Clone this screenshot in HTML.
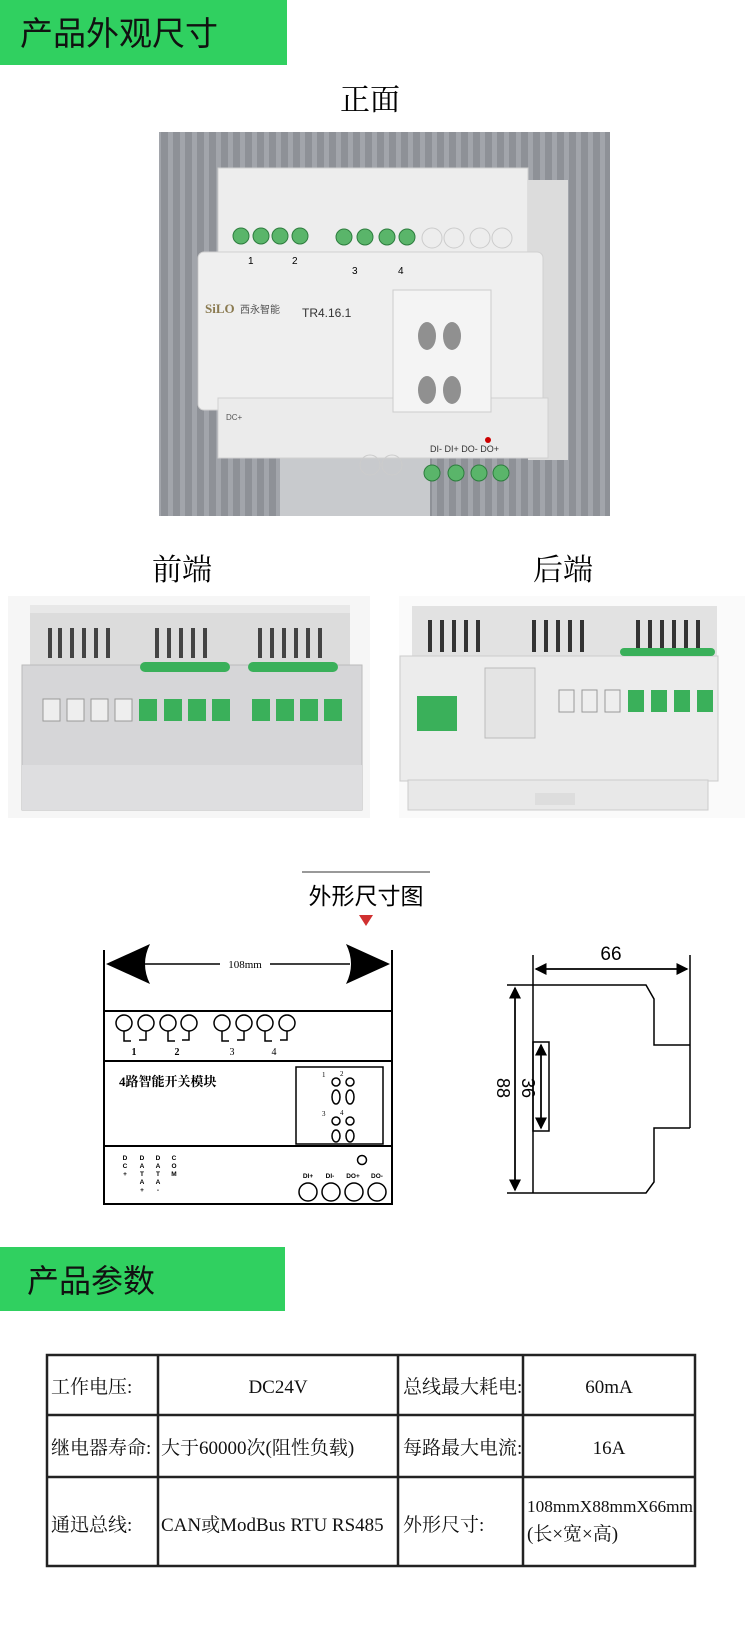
<!DOCTYPE html>
<html><head><meta charset="utf-8"><style>
html,body{margin:0;padding:0;background:#fff}
svg{display:block}
text{font-family:"Liberation Sans","Noto Sans CJK SC",sans-serif}
.s, .s text, text.s{font-family:"Liberation Serif","Noto Serif CJK SC",serif}
</style></head><body>
<svg width="750" height="1644" viewBox="0 0 750 1644" xmlns="http://www.w3.org/2000/svg">
<defs>
<pattern id="st" width="12" height="10" patternUnits="userSpaceOnUse"><rect width="12" height="10" fill="#8e9197"/><rect width="5" height="10" fill="#a2a5ab"/></pattern>
<marker id="ah" markerWidth="8" markerHeight="8" refX="7" refY="4" orient="auto"><path d="M0,0 L8,4 L0,8 z" fill="#000"/></marker>
</defs>
<!-- Header 1 -->
<rect x="0" y="0" width="287" height="65" fill="#30d060"/>
<text x="20" y="45" font-size="33" fill="#111">产品外观尺寸</text>
<text x="370" y="110" font-size="30" text-anchor="middle" class="s">正面</text>

<!-- Front photo -->
<rect x="159" y="132" width="451" height="384" fill="url(#st)"/>
<rect x="280" y="455" width="150" height="61" fill="#c8cacd"/>
<rect x="218" y="168" width="310" height="84" fill="#ededed" stroke="#cfcfcf"/>
<rect x="528" y="180" width="40" height="280" fill="#dcdcdc"/>
<rect x="198" y="252" width="345" height="158" rx="6" fill="#efefef" stroke="#d0d0d0"/>
<rect x="218" y="398" width="330" height="60" fill="#ebebeb" stroke="#d0d0d0"/>
<g fill="#5ab56a" stroke="#2d7d3e">
<circle cx="241" cy="236" r="8"/><circle cx="261" cy="236" r="8"/><circle cx="280" cy="236" r="8"/><circle cx="300" cy="236" r="8"/>
<circle cx="344" cy="237" r="8"/><circle cx="365" cy="237" r="8"/><circle cx="387" cy="237" r="8"/><circle cx="407" cy="237" r="8"/>
<circle cx="432" cy="473" r="8"/><circle cx="456" cy="473" r="8"/><circle cx="479" cy="473" r="8"/><circle cx="501" cy="473" r="8"/>
</g>
<g fill="none" stroke="#ccc"><circle cx="432" cy="238" r="10"/><circle cx="454" cy="238" r="10"/><circle cx="480" cy="238" r="10"/><circle cx="502" cy="238" r="10"/>
<circle cx="370" cy="465" r="10"/><circle cx="392" cy="465" r="10"/></g>
<text x="248" y="264" font-size="10">1</text><text x="292" y="264" font-size="10">2</text><text x="352" y="274" font-size="10">3</text><text x="398" y="274" font-size="10">4</text>
<text x="205" y="313" font-size="13" fill="#8a7a50" font-weight="bold" class="s">SiLO</text><text x="240" y="313" font-size="10" fill="#555">西永智能</text>
<text x="302" y="317" font-size="12" fill="#333">TR4.16.1</text>
<rect x="393" y="290" width="98" height="122" fill="#f4f4f4" stroke="#ccc"/>
<g fill="#909090"><ellipse cx="427" cy="336" rx="9" ry="14"/><ellipse cx="452" cy="336" rx="9" ry="14"/><ellipse cx="427" cy="390" rx="9" ry="14"/><ellipse cx="452" cy="390" rx="9" ry="14"/></g>
<text x="226" y="420" font-size="8" fill="#555">DC+</text>
<text x="430" y="452" font-size="9" fill="#333">DI-  DI+ DO- DO+</text>
<circle cx="488" cy="440" r="3" fill="#c00"/>

<text x="182" y="580" font-size="30" text-anchor="middle" class="s">前端</text>
<text x="563" y="580" font-size="30" text-anchor="middle" class="s">后端</text>
<!-- front-end photo -->
<rect x="8" y="596" width="362" height="222" fill="#f6f6f6"/>
<rect x="30" y="605" width="320" height="60" fill="#dcdcdc"/>
<rect x="30" y="605" width="320" height="8" fill="#e8e8e8"/>
<g fill="#444"><rect x="48" y="628" width="4" height="30"/><rect x="58" y="628" width="4" height="30"/><rect x="70" y="628" width="4" height="30"/><rect x="82" y="628" width="4" height="30"/><rect x="94" y="628" width="4" height="30"/><rect x="106" y="628" width="4" height="30"/>
<rect x="155" y="628" width="4" height="30"/><rect x="167" y="628" width="4" height="30"/><rect x="179" y="628" width="4" height="30"/><rect x="191" y="628" width="4" height="30"/><rect x="203" y="628" width="4" height="30"/>
<rect x="258" y="628" width="4" height="30"/><rect x="270" y="628" width="4" height="30"/><rect x="282" y="628" width="4" height="30"/><rect x="294" y="628" width="4" height="30"/><rect x="306" y="628" width="4" height="30"/><rect x="318" y="628" width="4" height="30"/></g>
<rect x="22" y="665" width="340" height="145" fill="#d6d6d8" stroke="#bbb"/>
<rect x="22" y="765" width="340" height="45" fill="#dedee0"/>
<g fill="#eee" stroke="#999"><rect x="43" y="699" width="17" height="22"/><rect x="67" y="699" width="17" height="22"/><rect x="91" y="699" width="17" height="22"/><rect x="115" y="699" width="17" height="22"/></g>
<g fill="#3ab05a"><rect x="139" y="699" width="18" height="22"/><rect x="164" y="699" width="18" height="22"/><rect x="188" y="699" width="18" height="22"/><rect x="212" y="699" width="18" height="22"/>
<rect x="252" y="699" width="18" height="22"/><rect x="276" y="699" width="18" height="22"/><rect x="300" y="699" width="18" height="22"/><rect x="324" y="699" width="18" height="22"/>
<rect x="140" y="662" width="90" height="10" rx="5"/><rect x="248" y="662" width="90" height="10" rx="5"/></g>
<!-- back-end photo -->
<rect x="399" y="596" width="346" height="222" fill="#fafafa"/>
<rect x="412" y="606" width="305" height="50" fill="#e2e2e2"/>
<g fill="#333"><rect x="428" y="620" width="4" height="32"/><rect x="440" y="620" width="4" height="32"/><rect x="452" y="620" width="4" height="32"/><rect x="464" y="620" width="4" height="32"/><rect x="476" y="620" width="4" height="32"/>
<rect x="532" y="620" width="4" height="32"/><rect x="544" y="620" width="4" height="32"/><rect x="556" y="620" width="4" height="32"/><rect x="568" y="620" width="4" height="32"/><rect x="580" y="620" width="4" height="32"/>
<rect x="636" y="620" width="4" height="32"/><rect x="648" y="620" width="4" height="32"/><rect x="660" y="620" width="4" height="32"/><rect x="672" y="620" width="4" height="32"/><rect x="684" y="620" width="4" height="32"/><rect x="696" y="620" width="4" height="32"/></g>
<rect x="400" y="656" width="318" height="125" fill="#ececec" stroke="#ccc"/>
<rect x="408" y="780" width="300" height="30" fill="#e8e8e8" stroke="#ccc"/>
<rect x="485" y="668" width="50" height="70" fill="#e4e4e4" stroke="#bbb"/>
<rect x="417" y="696" width="40" height="35" fill="#3ab05a"/>
<g fill="#eee" stroke="#999"><rect x="559" y="690" width="15" height="22"/><rect x="582" y="690" width="15" height="22"/><rect x="605" y="690" width="15" height="22"/></g>
<g fill="#3ab05a"><rect x="628" y="690" width="16" height="22"/><rect x="651" y="690" width="16" height="22"/><rect x="674" y="690" width="16" height="22"/><rect x="697" y="690" width="16" height="22"/><rect x="620" y="648" width="95" height="8" rx="4"/></g>
<rect x="535" y="793" width="40" height="12" fill="#ddd"/>

<!-- Dimension drawing title -->
<line x1="302" y1="872" x2="430" y2="872" stroke="#333"/>
<text x="366" y="904" font-size="23" text-anchor="middle">外形尺寸图</text>
<path d="M359,915 L373,915 L366,926 z" fill="#d03030"/>

<!-- Left drawing -->
<g stroke="#000" stroke-width="2" fill="none">
<path d="M104,950 V1204 H392 V950"/>
<line x1="104" y1="1011" x2="392" y2="1011"/>
<line x1="104" y1="1061" x2="392" y2="1061"/>
<line x1="104" y1="1146" x2="392" y2="1146"/>
<rect x="296" y="1067" width="87" height="77" stroke-width="1.5"/>
</g>
<line x1="140" y1="964" x2="350" y2="964" stroke="#000" stroke-width="1.5"/>
<path d="M106,964 L150,944 Q140,964 150,984 z" fill="#000"/>
<path d="M390,964 L346,944 Q356,964 346,984 z" fill="#000"/>
<rect x="220" y="957" width="50" height="14" fill="#fff"/>
<text x="245" y="968" font-size="11" text-anchor="middle" class="s">108mm</text>
<g fill="none" stroke="#000" stroke-width="1.5">
<circle cx="124" cy="1023" r="8"/><circle cx="146" cy="1023" r="8"/><circle cx="168" cy="1023" r="8"/><circle cx="189" cy="1023" r="8"/>
<circle cx="222" cy="1023" r="8"/><circle cx="244" cy="1023" r="8"/><circle cx="265" cy="1023" r="8"/><circle cx="287" cy="1023" r="8"/>
<path d="M124,1031 V1041 H131 M146,1031 V1040 H139"/><path d="M168,1031 V1041 H175 M189,1031 V1040 H182"/>
<path d="M222,1031 V1041 H229 M244,1031 V1040 H237"/><path d="M265,1031 V1041 H272 M287,1031 V1040 H280"/>
</g>
<g font-size="10" class="s" text-anchor="middle"><text x="134" y="1055" font-weight="bold">1</text><text x="177" y="1055" font-weight="bold">2</text><text x="232" y="1055">3</text><text x="274" y="1055">4</text></g>
<text x="119" y="1086" font-size="13" font-weight="bold" class="s">4路智能开关模块</text>
<g font-size="7" class="s"><text x="322" y="1077">1</text><text x="340" y="1076">2</text><text x="322" y="1116">3</text><text x="340" y="1115">4</text></g>
<g fill="none" stroke="#000" stroke-width="1.5">
<circle cx="336" cy="1082" r="4"/><circle cx="350" cy="1082" r="4"/><ellipse cx="336" cy="1097" rx="4" ry="7"/><ellipse cx="350" cy="1097" rx="4" ry="7"/>
<circle cx="336" cy="1121" r="4"/><circle cx="350" cy="1121" r="4"/><ellipse cx="336" cy="1136" rx="4" ry="6"/><ellipse cx="350" cy="1136" rx="4" ry="6"/>
<circle cx="362" cy="1160" r="4.5"/>
<circle cx="308" cy="1192" r="9"/><circle cx="331" cy="1192" r="9"/><circle cx="354" cy="1192" r="9"/><circle cx="377" cy="1192" r="9"/>
</g>
<g font-size="6.5" font-weight="bold" text-anchor="middle">
<text x="125" y="1160">D</text><text x="125" y="1168">C</text><text x="125" y="1176">+</text>
<text x="142" y="1160">D</text><text x="142" y="1168">A</text><text x="142" y="1176">T</text><text x="142" y="1184">A</text><text x="142" y="1192">+</text>
<text x="158" y="1160">D</text><text x="158" y="1168">A</text><text x="158" y="1176">T</text><text x="158" y="1184">A</text><text x="158" y="1192">-</text>
<text x="174" y="1160">C</text><text x="174" y="1168">O</text><text x="174" y="1176">M</text>
<text x="308" y="1178">DI+</text><text x="330" y="1178">DI-</text><text x="353" y="1178">DO+</text><text x="377" y="1178">DO-</text>
</g>

<!-- Right drawing -->
<g stroke="#000" stroke-width="1.5" fill="none">
<line x1="533" y1="955" x2="533" y2="1193"/>
<line x1="690" y1="955" x2="690" y2="1128"/>
<path d="M507,985 H646 L654,999 V1045 H690 M690,1128 H654 V1182 L646,1193 H507"/>
<rect x="533" y="1042" width="16" height="89"/>
<line x1="536" y1="969" x2="687" y2="969" marker-end="url(#ah)"/>
<line x1="687" y1="969" x2="536" y2="969" marker-end="url(#ah)"/>
<line x1="515" y1="988" x2="515" y2="1190" marker-end="url(#ah)"/>
<line x1="515" y1="1190" x2="515" y2="988" marker-end="url(#ah)"/>
<line x1="541" y1="1045" x2="541" y2="1128" marker-end="url(#ah)"/>
<line x1="541" y1="1128" x2="541" y2="1045" marker-end="url(#ah)"/>
</g>
<text x="611" y="960" font-size="19" text-anchor="middle">66</text>
<text x="0" y="0" font-size="18" text-anchor="middle" transform="translate(497,1088) rotate(90)">88</text>
<text x="0" y="0" font-size="18" text-anchor="middle" transform="translate(522,1088) rotate(90)">36</text>

<!-- Header 2 -->
<rect x="0" y="1247" width="285" height="64" fill="#30d060"/>
<text x="27" y="1292" font-size="32" fill="#111">产品参数</text>

<!-- Table -->
<g stroke="#222" stroke-width="2.5" fill="none">
<rect x="47" y="1355" width="648" height="211"/>
<line x1="47" y1="1415" x2="695" y2="1415"/>
<line x1="47" y1="1477" x2="695" y2="1477"/>
<line x1="158" y1="1355" x2="158" y2="1566"/>
<line x1="398" y1="1355" x2="398" y2="1566"/>
<line x1="523" y1="1355" x2="523" y2="1566"/>
</g>
<g font-size="19" class="s" fill="#111">
<text x="51" y="1393">工作电压:</text>
<text x="278" y="1393" text-anchor="middle">DC24V</text>
<text x="403" y="1393">总线最大耗电:</text>
<text x="609" y="1393" text-anchor="middle">60mA</text>
<text x="51" y="1454">继电器寿命:</text>
<text x="161" y="1454">大于60000次(阻性负载)</text>
<text x="403" y="1454">每路最大电流:</text>
<text x="609" y="1454" text-anchor="middle">16A</text>
<text x="51" y="1531">通迅总线:</text>
<text x="161" y="1531">CAN或ModBus RTU RS485</text>
<text x="403" y="1531">外形尺寸:</text>
<text x="527" y="1512" font-size="17" textLength="166" lengthAdjust="spacingAndGlyphs">108mmX88mmX66mm</text>
<text x="527" y="1540">(长×宽×高)</text>
</g>
</svg>
</body></html>
